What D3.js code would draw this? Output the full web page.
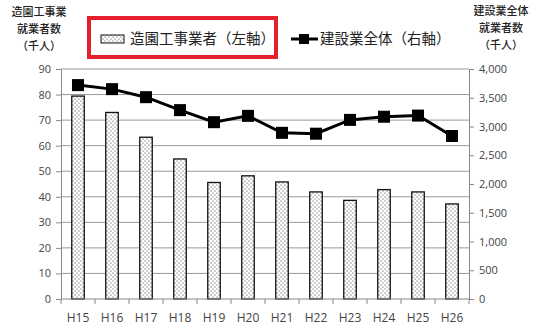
<!DOCTYPE html>
<html>
<head>
<meta charset="utf-8">
<script src="https://cdn.jsdelivr.net/npm/d3@7"></script>
<style>
  body { margin: 0; background: #fff; }
  svg { display: block; }
</style>
</head>
<body>
<div id="chart"></div>
<script>
// 年度
var years = ["H15","H16","H17","H18","H19","H20","H21","H22","H23","H24","H25","H26"];
// 造園工事業者 就業者数（千人, 左軸）
var landscape = [79.4, 73.0, 63.3, 54.8, 45.6, 48.2, 45.8, 41.9, 38.6, 42.8, 41.9, 37.2];
// 建設業全体 就業者数（千人, 右軸）
var construction = [3720, 3650, 3510, 3285, 3075, 3185, 2890, 2875, 3115, 3170, 3190, 2835];
var leftTicks = [0,10,20,30,40,50,60,70,80,90];
var rightTicks = [0,500,1000,1500,2000,2500,3000,3500,4000];

var W = 539, H = 331;
var margin = {top: 69, right: 70, bottom: 32, left: 61};
var jp = "'Noto Sans CJK JP', sans-serif";
var num = "'Open Sans', sans-serif";

var svg = d3.select("#chart").append("svg")
  .attr("width", W).attr("height", H);

var defs = svg.append("defs");
var pat = defs.append("pattern")
  .attr("id", "dots")
  .attr("patternUnits", "userSpaceOnUse")
  .attr("width", 4).attr("height", 4);
pat.append("rect").attr("width", 4).attr("height", 4).attr("fill", "#fff");
pat.append("circle").attr("cx", 1).attr("cy", 1).attr("r", 0.6).attr("fill", "#333");
pat.append("circle").attr("cx", 3).attr("cy", 3).attr("r", 0.6).attr("fill", "#333");

var x = d3.scaleBand().domain(years).range([margin.left, W - margin.right]);
var yL = d3.scaleLinear().domain([0, 90]).range([H - margin.bottom, margin.top]);
var yR = d3.scaleLinear().domain([0, 4000]).range([H - margin.bottom, margin.top]);

// gridlines
svg.append("g").selectAll("line")
  .data(leftTicks.slice(1))
  .enter().append("line")
  .attr("x1", margin.left).attr("x2", W - margin.right)
  .attr("y1", function(d) { return yL(d); })
  .attr("y2", function(d) { return yL(d); })
  .attr("stroke", "#999").attr("stroke-width", 1);

// bars
var bw = 12.5;
svg.append("g").selectAll("rect")
  .data(landscape)
  .enter().append("rect")
  .attr("x", function(d, i) { return x(years[i]) + x.bandwidth()/2 - bw/2; })
  .attr("y", function(d) { return yL(d); })
  .attr("width", bw)
  .attr("height", function(d) { return yL(0) - yL(d); })
  .attr("fill", "url(#dots)")
  .attr("stroke", "#111").attr("stroke-width", 1.3);

// axes
function styleAxis(g) {
  g.selectAll("path, line").attr("stroke", "#888");
  g.selectAll("text").attr("fill", "#444").style("font-family", num).style("font-size", "11px");
}
svg.append("g")
  .attr("transform", "translate(" + margin.left + ",0)")
  .call(d3.axisLeft(yL).tickValues(leftTicks).tickSize(5).tickSizeOuter(0).tickPadding(5))
  .call(styleAxis);
svg.append("g")
  .attr("transform", "translate(" + (W - margin.right) + ",0)")
  .call(d3.axisRight(yR).tickValues(rightTicks).tickSize(5).tickSizeOuter(0).tickPadding(5)
    .tickFormat(d3.format(",")))
  .call(styleAxis);

var xg = svg.append("g")
  .attr("transform", "translate(0," + (H - margin.bottom) + ")");
xg.append("line")
  .attr("x1", margin.left).attr("x2", W - margin.right)
  .attr("stroke", "#888");
xg.selectAll(".tk")
  .data(years.concat(["end"]))
  .enter().append("line")
  .attr("x1", function(d, i) { return margin.left + i * x.bandwidth(); })
  .attr("x2", function(d, i) { return margin.left + i * x.bandwidth(); })
  .attr("y1", 0).attr("y2", 5)
  .attr("stroke", "#888");
xg.selectAll("text")
  .data(years)
  .enter().append("text")
  .attr("x", function(d) { return x(d) + x.bandwidth()/2; })
  .attr("y", 23)
  .attr("text-anchor", "middle")
  .attr("fill", "#444")
  .style("font-family", num).style("font-size", "12px")
  .text(function(d) { return d; });

// line
var line = d3.line()
  .x(function(d, i) { return x(years[i]) + x.bandwidth()/2; })
  .y(function(d) { return yR(d); });
svg.append("path")
  .datum(construction)
  .attr("d", line)
  .attr("fill", "none")
  .attr("stroke", "#000").attr("stroke-width", 3);
svg.append("g").selectAll("rect")
  .data(construction)
  .enter().append("rect")
  .attr("x", function(d, i) { return x(years[i]) + x.bandwidth()/2 - 6; })
  .attr("y", function(d) { return yR(d) - 6; })
  .attr("width", 12).attr("height", 12)
  .attr("fill", "#000");

// axis titles
function title(lines, cx, y0) {
  svg.append("g").selectAll("text")
    .data(lines)
    .enter().append("text")
    .attr("x", cx)
    .attr("y", function(d, i) { return y0 + i * 17; })
    .attr("text-anchor", "middle")
    .attr("fill", "#222")
    .style("font-family", jp).style("font-size", "11px").style("font-weight", 500)
    .text(function(d) { return d; });
}
title(["造園工事業", "就業者数", "（千人）"], 39, 16);
title(["建設業全体", "就業者数", "（千人）"], 501, 15);

// legend
svg.append("rect")
  .attr("x", 89).attr("y", 18).attr("width", 187).attr("height", 39)
  .attr("fill", "none").attr("stroke", "#e3202b").attr("stroke-width", 4);
svg.append("rect")
  .attr("x", 101).attr("y", 35).attr("width", 23).attr("height", 8)
  .attr("fill", "url(#dots)").attr("stroke", "#111").attr("stroke-width", 1);
svg.append("text")
  .attr("x", 130).attr("y", 44)
  .attr("fill", "#222")
  .style("font-family", jp).style("font-size", "14.5px")
  .text("造園工事業者（左軸）");
svg.append("line")
  .attr("x1", 291).attr("x2", 318).attr("y1", 39).attr("y2", 39)
  .attr("stroke", "#000").attr("stroke-width", 3);
svg.append("rect")
  .attr("x", 299).attr("y", 34).attr("width", 10).attr("height", 10)
  .attr("fill", "#000");
svg.append("text")
  .attr("x", 320).attr("y", 44)
  .attr("fill", "#222")
  .style("font-family", jp).style("font-size", "14.5px")
  .text("建設業全体（右軸）");
</script>
</body>
</html>
